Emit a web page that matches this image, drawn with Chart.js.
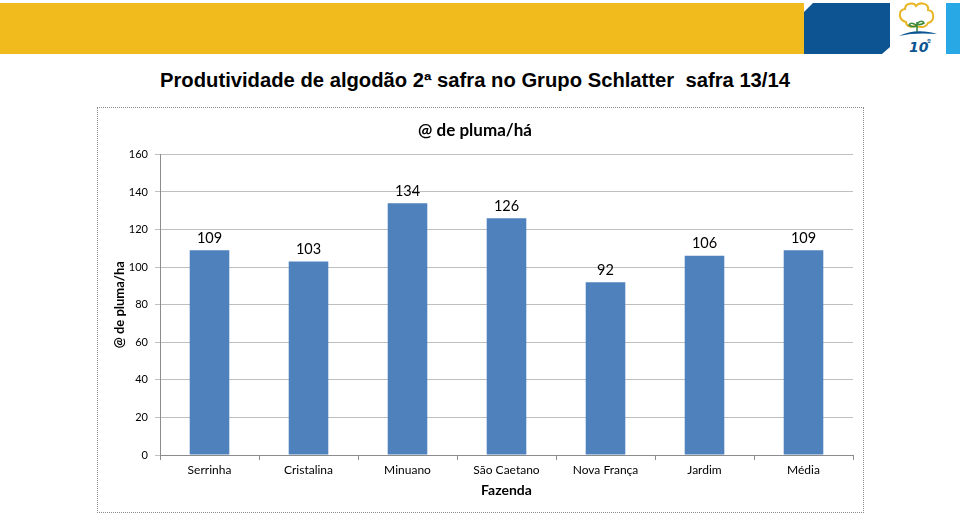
<!DOCTYPE html>
<html>
<head>
<meta charset="utf-8">
<script src="https://cdn.jsdelivr.net/npm/chart.js@4.4.1/dist/chart.umd.min.js"></script>
<style>
  html, body { margin: 0; padding: 0; background: #ffffff; }
  body { width: 960px; height: 515px; position: relative; overflow: hidden; }
  #yellow { position: absolute; left: 0; top: 3px; width: 804px; height: 51px; background: #f1ba1d; }
  #deco { position: absolute; left: 0; top: 0; }
  #titletext { position: absolute; left: 160px; top: 67px;
           font-family: "Liberation Sans", Arial, sans-serif;
           font-weight: bold; font-size: 19.5px; color: #000; white-space: pre; line-height: 26px;
           transform-origin: 0 0; }
  #box { position: absolute; left: 97px; top: 107px; width: 767px; height: 406px; box-sizing: border-box;
         border: 1px dotted #8a8a8a; }
  #wrap { position: absolute; left: 97px; top: 107px; width: 767px; height: 406px; }
</style>
</head>
<body>
<div id="yellow"></div>
<svg id="deco" width="960" height="60">
  <polygon points="813,3 890,3 890,47 882,54 804,54 804,12" fill="#0d5592"/>
  <rect x="946" y="3" width="14" height="51" fill="#29a8e6"/>
  <path d="M906,22 C898,20 898,10 905,9 C905,3 914,2 916,6 C920,1 930,4 928,10 C935,11 935,21 928,23 C926,28 918,28 916,25 C913,28 906,27 906,22 Z" fill="none" stroke="#e8b524" stroke-width="2"/>
  <path d="M917,32 L917,22 M917,26 C913,22 910,23 909,25 C912,27 915,27 917,26 M917,24 C920,20 923,21 924,23 C921,25 919,25 917,24" fill="none" stroke="#3c8a3c" stroke-width="1.6"/>
  <path d="M899,36 C910,30 925,30 937,34 C925,33 910,33 899,36 Z" fill="#0d5592"/>
  <text x="909" y="52" font-family="DejaVu Sans" font-style="italic" font-weight="bold" font-size="14" fill="#0d5592">10</text>
  <text x="927" y="44" font-family="DejaVu Sans" font-weight="bold" font-size="7" fill="#0d5592">º</text>
</svg>
<div id="titletext">Produtividade de algodão 2ª safra no Grupo Schlatter  safra 13/14</div>
<div id="box"></div>
<div id="wrap"><canvas id="c" width="767" height="406"></canvas></div>
<script>
const categories = ["Serrinha", "Cristalina", "Minuano", "São Caetano", "Nova França", "Jardim", "Média"];
const values = [109, 103, 134, 126, 92, 106, 109];
const yTicks = [0, 20, 40, 60, 80, 100, 120, 140, 160];
const chartTitle = "@ de pluma/há";
const yTitle = "@ de pluma/ha";
const xTitle = "Fazenda";

// condense main title horizontally to the reference width (~630px), like Arial Narrow
(function () {
  const t = document.getElementById('titletext');
  const w = t.getBoundingClientRect().width;
  if (w > 0) t.style.transform = 'scaleX(' + (630 / w).toFixed(4) + ')';
})();

const FONT = "Lato, 'Open Sans', 'Liberation Sans', sans-serif";

const valueLabels = {
  id: 'valueLabels',
  afterDatasetsDraw(chart) {
    const ctx = chart.ctx;
    const meta = chart.getDatasetMeta(0);
    ctx.save();
    ctx.font = "14.5px " + FONT;
    ctx.fillStyle = "#000";
    ctx.textAlign = "center";
    ctx.textBaseline = "bottom";
    meta.data.forEach((bar, i) => {
      ctx.fillText(String(chart.data.datasets[0].data[i]), bar.x, bar.y - 5);
    });
    ctx.restore();
  }
};

new Chart(document.getElementById('c'), {
  type: 'bar',
  data: {
    labels: categories,
    datasets: [{
      data: values,
      backgroundColor: '#4f81bd',
      borderWidth: 0,
      categoryPercentage: 1.0,
      barPercentage: 0.4
    }]
  },
  options: {
    responsive: false,
    animation: false,
    events: [],
    layout: { padding: { left: 0, right: 11, top: 0, bottom: 0 } },
    plugins: {
      legend: { display: false },
      tooltip: { enabled: false },
      title: {
        display: true,
        text: chartTitle,
        color: '#000',
        font: { family: FONT, size: 17, weight: 'bold' },
        padding: { top: 13, bottom: 14 }
      }
    },
    scales: {
      x: {
        grid: { display: true, drawOnChartArea: false, drawTicks: true, tickLength: 5, color: '#8c8c8c', offset: true },
        border: { display: true, color: '#8c8c8c', width: 1 },
        ticks: { color: '#000', font: { family: FONT, size: 12 }, padding: 3, maxRotation: 0, autoSkip: false },
        title: { display: true, text: xTitle, color: '#000', font: { family: FONT, size: 14, weight: 'bold' }, padding: { top: 0, bottom: 14 } },
        afterFit(s) { s.height = 58; }
      },
      y: {
        min: 0, max: 160,
        afterBuildTicks(s) { s.ticks = yTicks.map(v => ({ value: v })); },
        grid: { color: '#bfbfbf', tickLength: 5, drawTicks: true },
        border: { display: true, color: '#8c8c8c', width: 1 },
        ticks: { color: '#000', font: { family: FONT, size: 11 }, padding: 7 },
        title: { display: true, text: yTitle, color: '#000', font: { family: FONT, size: 13, weight: 'bold' }, padding: { top: 15, bottom: 0 } },
        afterFit(s) { s.width = 63; }
      }
    }
  },
  plugins: [valueLabels]
});
</script>
</body>
</html>
